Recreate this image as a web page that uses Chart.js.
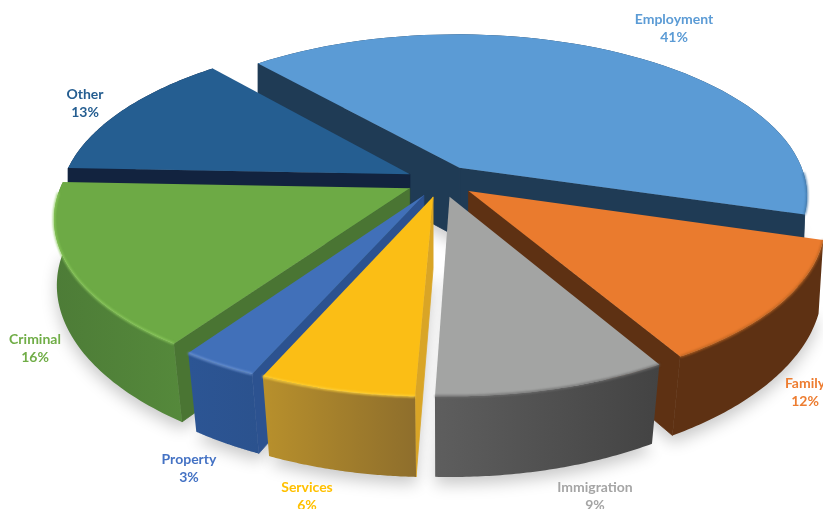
<!DOCTYPE html>
<html>
<head>
<meta charset="utf-8">
<title>Cases by type</title>
<style>
  html, body { margin: 0; padding: 0; background: #fff; overflow: hidden; }
  canvas { display: block; }
</style>
<script src="https://cdn.jsdelivr.net/npm/chart.js@4"></script>
</head>
<body>
<canvas id="pieChart" width="823" height="509"></canvas>
<script>
// ===================================
// DATA
// ===================================
const categories = ['Employment', 'Family', 'Immigration', 'Services', 'Property', 'Criminal', 'Other'];
const shares = [41, 12, 9, 6, 3, 16, 13];

const topColors = ['#5b9bd5', '#ea7b2e', '#a3a4a3', '#fbbe15', '#4170b9', '#6daa45', '#255e91'];
const cutColors = ['#1f3b55', '#5e3113', '#444444', '#d9a526', '#2c5290', '#4a7533', '#12233f'];
const wallLeft = ['#1f3b55', '#5e3113', '#5e5e5e', '#b8902c', '#2c5594', '#4d7c37', '#12233f'];
const wallRight = ['#1f3b55', '#5e3113', '#434343', '#8e6e2c', '#2b528e', '#55893b', '#12233f'];
const rimColors = ['#3f77aa', '#b8611f', '#6e6e6e', '#ffd23a', '#6f95d6', '#8ccb5c', '#255e91'];
const labelColors = ['#5b9bd5', '#ed7d31', '#a5a5a5', '#ffc000', '#4472c4', '#70ad47', '#255e91'];

// label centres, first line
const labelSpots = [[674, 19], [805, 383], [595, 487], [307, 487], [189, 459], [35, 339], [85, 94]];

// ===================================
// 3D VIEW
// ===================================
const view = { cx: 441, cy: 181, rx: 347, ry: 160, persp: 0.1686, drop: 71, shrink: 0.97, taper: 0.035, explode: 0.1 };

function project(u, v, bottom) {
    const d = 1 - view.persp * v;
    const s = bottom ? view.shrink : 1;
    // lower rim pulls in towards the viewer's side only
    const sx = bottom ? 1 - view.taper * Math.max(0, v) : 1;
    return {
        x: view.cx + view.rx * u * sx / d,
        y: view.cy + view.ry * v * s / d + (bottom ? view.drop / d : 0)
    };
}

// outline of one slice in plane coords, read from the arc element angles
function sliceGeometry(arc) {
    const mid = (arc.startAngle + arc.endAngle) / 2;
    const ox = Math.cos(mid) * view.explode;
    const oy = Math.sin(mid) * view.explode;
    const steps = 60;
    const rim = [];
    for (let i = 0; i <= steps; i++) {
        const a = arc.startAngle + (arc.endAngle - arc.startAngle) * i / steps;
        rim.push([ox + Math.cos(a), oy + Math.sin(a), Math.sin(a)]);
    }
    return { ox, oy, rim, depth: Math.sin(mid) };
}

function tracePoly(ctx, pts) {
    ctx.beginPath();
    pts.forEach((p, i) => (i ? ctx.lineTo(p.x, p.y) : ctx.moveTo(p.x, p.y)));
    ctx.closePath();
}

function signedArea(pts) {
    let sum = 0;
    pts.forEach((p, i) => {
        const q = pts[(i + 1) % pts.length];
        sum += p.x * q.y - q.x * p.y;
    });
    return sum;
}

function drawCutWall(ctx, g, end, color) {
    const outer = end ? g.rim[g.rim.length - 1] : g.rim[0];
    const quad = [
        project(g.ox, g.oy, false),
        project(outer[0], outer[1], false),
        project(outer[0], outer[1], true),
        project(g.ox, g.oy, true)
    ];
    const area = signedArea(quad);
    // walls turned away from the viewer stay hidden
    if (end ? area < 0 : area > 0) return;
    tracePoly(ctx, quad);
    ctx.fillStyle = color;
    ctx.strokeStyle = color;
    ctx.lineWidth = 0.8;
    ctx.fill();
    ctx.stroke();
}

function drawSlice(ctx, arc, i) {
    const g = sliceGeometry(arc);
    const tops = g.rim.map(p => project(p[0], p[1], false));
    const lows = g.rim.map(p => project(p[0], p[1], true));

    drawCutWall(ctx, g, false, cutColors[i]);
    drawCutWall(ctx, g, true, cutColors[i]);

    // outer wall, shaded from side to side
    const xs = tops.concat(lows).map(p => p.x);
    const shade = ctx.createLinearGradient(Math.min(...xs), 0, Math.max(...xs), 0);
    shade.addColorStop(0, wallLeft[i]);
    shade.addColorStop(1, wallRight[i]);
    tracePoly(ctx, tops.concat(lows.slice().reverse()));
    ctx.fillStyle = shade;
    ctx.fill();

    // top face
    tracePoly(ctx, [project(g.ox, g.oy, false)].concat(tops));
    ctx.fillStyle = topColors[i];
    ctx.fill();

    // bevel along the part of the outer edge that faces the viewer
    ctx.save();
    ctx.beginPath();
    let started = false;
    g.rim.forEach((p, k) => {
        if (p[2] < 0.02) return;
        const t = tops[k];
        if (started) ctx.lineTo(t.x, t.y);
        else ctx.moveTo(t.x, t.y);
        started = true;
    });
    ctx.strokeStyle = rimColors[i];
    ctx.lineWidth = 2;
    ctx.filter = 'blur(0.8px)';
    ctx.stroke();
    ctx.restore();
}

function drawGroundShadow(ctx, arcs) {
    ctx.save();
    ctx.shadowColor = 'rgba(0,0,0,0.22)';
    ctx.shadowBlur = 16;
    ctx.shadowOffsetX = 2000;
    ctx.shadowOffsetY = 7;
    ctx.fillStyle = '#000';
    arcs.forEach(arc => {
        const g = sliceGeometry(arc);
        const pts = [project(g.ox, g.oy, true)].concat(g.rim.map(p => project(p[0], p[1], true)));
        tracePoly(ctx, pts.map(p => ({ x: p.x - 2000, y: p.y })));
        ctx.fill();
    });
    ctx.restore();
}

// ===================================
// PIE PLUGIN
// ===================================
const extrudedPie = {
    id: 'extrudedPie',
    beforeDatasetsDraw(chart) {
        const ctx = chart.ctx;
        const arcs = chart.getDatasetMeta(0).data;
        drawGroundShadow(ctx, arcs);
        arcs.map((arc, i) => ({ arc, i }))
            .sort((a, b) => sliceGeometry(a.arc).depth - sliceGeometry(b.arc).depth)
            .forEach(({ arc, i }) => drawSlice(ctx, arc, i));
        return false;
    },
    afterDraw(chart) {
        const ctx = chart.ctx;
        ctx.save();
        ctx.font = 'bold 14px Lato';
        ctx.textAlign = 'center';
        ctx.textBaseline = 'middle';
        categories.forEach((name, i) => {
            const [x, y] = labelSpots[i];
            ctx.fillStyle = labelColors[i];
            ctx.fillText(name, x, y);
            ctx.fillText(shares[i] + '%', x, y + 18);
        });
        ctx.restore();
    }
};

new Chart(document.getElementById('pieChart'), {
    type: 'pie',
    data: {
        labels: categories,
        datasets: [{ data: shares, backgroundColor: topColors, borderWidth: 0 }]
    },
    options: {
        responsive: false,
        animation: false,
        rotation: -41,
        events: [],
        plugins: { legend: { display: false }, tooltip: { enabled: false } }
    },
    plugins: [extrudedPie]
});
</script>
</body>
</html>
